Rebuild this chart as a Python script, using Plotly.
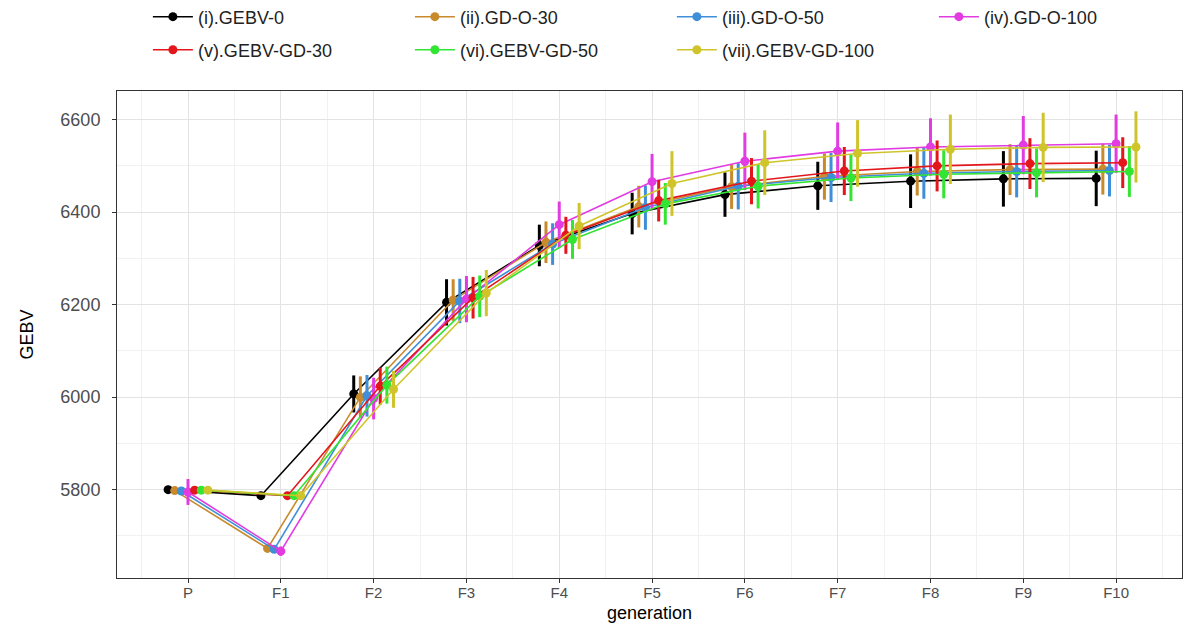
import plotly.graph_objects as go

generations = ["P", "F1", "F2", "F3", "F4", "F5", "F6", "F7", "F8", "F9", "F10"]

series_names = ["(i).GEBV-0", "(ii).GD-O-30", "(iii).GD-O-50", "(iv).GD-O-100",
                "(v).GEBV-GD-30", "(vi).GEBV-GD-50", "(vii).GEBV-GD-100"]

gebv_0      = [5800, 5787, 6007, 6205, 6328, 6397, 6438, 6457, 6467, 6472, 6473]
gd_o_30     = [5798, 5673, 6000, 6210, 6335, 6412, 6455, 6477, 6488, 6492, 6493]
gd_o_50     = [5797, 5671, 6003, 6208, 6331, 6410, 6456, 6475, 6484, 6488, 6490]
gd_o_100    = [5795, 5667, 5997, 6212, 6373, 6466, 6510, 6532, 6541, 6545, 6548]
gebv_gd_30  = [5799, 5787, 6024, 6215, 6350, 6425, 6467, 6489, 6500, 6505, 6507]
gebv_gd_50  = [5799, 5787, 6026, 6218, 6341, 6418, 6456, 6474, 6482, 6485, 6488]
gebv_gd_100 = [5799, 5787, 6017, 6225, 6370, 6462, 6507, 6527, 6536, 6540, 6541]

sd_gebv_0      = [3, 3, 40, 50, 45, 45, 48, 52, 58, 60, 60]
sd_gd_o_30     = [5, 5, 45, 45, 45, 45, 48, 50, 52, 55, 55]
sd_gd_o_50     = [5, 5, 45, 48, 45, 48, 50, 53, 55, 56, 56]
sd_gd_o_100    = [28, 10, 45, 50, 50, 60, 62, 62, 62, 63, 63]
sd_gebv_gd_30  = [5, 3, 40, 45, 40, 45, 50, 52, 55, 55, 55]
sd_gebv_gd_50  = [5, 3, 40, 45, 42, 45, 48, 50, 52, 53, 55]
sd_gebv_gd_100 = [5, 3, 40, 50, 50, 70, 70, 72, 75, 75, 77]

means = [gebv_0, gd_o_30, gd_o_50, gd_o_100, gebv_gd_30, gebv_gd_50, gebv_gd_100]
sds = [sd_gebv_0, sd_gd_o_30, sd_gd_o_50, sd_gd_o_100, sd_gebv_gd_30, sd_gebv_gd_50, sd_gebv_gd_100]
colors = ["#000000", "#C98A2C", "#3E8FD8", "#E23BE2", "#E3161C", "#33E533", "#CFC52A"]

dodge_width = 0.5
n = len(series_names)
font_family = "Liberation Sans, Arial, sans-serif"

fig = go.Figure()
for i, (name, m, s, c) in enumerate(zip(series_names, means, sds, colors)):
    offset = (i - (n - 1) / 2) * dodge_width / n
    xs = [g + offset for g in range(len(generations))]
    fig.add_trace(go.Scatter(
        x=xs, y=m, name=name, mode="lines+markers",
        line=dict(color=c, width=1.6),
        marker=dict(color=c, size=9),
        error_y=dict(type="data", array=s, visible=True, color=c, thickness=3, width=0),
        legend="legend" if i < 4 else "legend2",
    ))

grid_major = "#E3E3E3"
grid_minor = "#F1F1F1"
legend_common = dict(orientation="h", xanchor="left", yanchor="middle",
                     entrywidth=207, font=dict(size=18, color="#222222"),
                     bgcolor="rgba(0,0,0,0)", itemwidth=40)

fig.update_layout(
    width=1184, height=618,
    margin=dict(l=109, r=10, t=83, b=48, autoexpand=False),
    paper_bgcolor="white", plot_bgcolor="white",
    font=dict(family=font_family, size=15, color="#000000"),
    legend=dict(x=0.029, y=1.152, **legend_common),
    legend2=dict(x=0.029, y=1.084, **legend_common),
    xaxis=dict(
        range=[-0.765, 10.71],
        tickmode="array", tickvals=list(range(len(generations))), ticktext=generations,
        showgrid=True, gridcolor=grid_major, gridwidth=1.2,
        minor=dict(tickmode="array",
                   tickvals=[k + 0.5 for k in range(-1, len(generations))],
                   showgrid=True, gridcolor=grid_minor, gridwidth=1, ticks=""),
        ticks="outside", ticklen=4, tickcolor="#333333", tickwidth=1,
        tickfont=dict(size=15, color="#4D4D4D"),
        ticklabelstandoff=-3,
        showline=True, linecolor="#333333", linewidth=1, mirror=True,
        zeroline=False,
    ),
    yaxis=dict(
        range=[5609, 6662],
        tickmode="array", tickvals=[5800, 6000, 6200, 6400, 6600],
        showgrid=True, gridcolor=grid_major, gridwidth=1.2,
        minor=dict(tickmode="array", tickvals=[5700, 5900, 6100, 6300, 6500],
                   showgrid=True, gridcolor=grid_minor, gridwidth=1, ticks=""),
        ticks="outside", ticklen=4, tickcolor="#333333", tickwidth=1,
        tickfont=dict(size=18, color="#4D4D4D"),
        ticklabelstandoff=8,
        showline=True, linecolor="#333333", linewidth=1, mirror=True,
        zeroline=False,
        title=dict(text="GEBV", font=dict(size=18, color="#000000"), standoff=22),
    ),
    annotations=[dict(text="generation", xref="paper", yref="paper", x=0.5, y=-0.072,
                      xanchor="center", yanchor="middle", showarrow=False,
                      font=dict(size=18, color="#000000"))],
)

fig.write_html("out.html")
